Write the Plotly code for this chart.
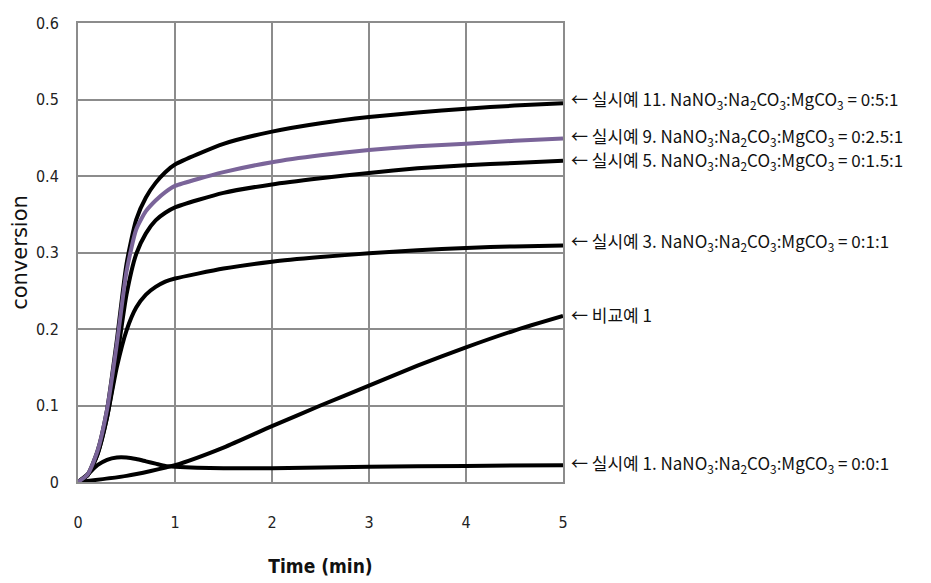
import plotly.graph_objects as go

# ---- data ----
t_fast = [0, 0.1, 0.2, 0.3, 0.4, 0.5, 0.6, 0.7, 0.8, 0.9, 1.0, 1.5, 2.0, 2.5, 3.0, 3.5, 4.0, 4.5, 5.0]
ex11 = [0, 0.010, 0.040, 0.095, 0.185, 0.285, 0.343, 0.372, 0.391, 0.405, 0.415, 0.442, 0.458, 0.469, 0.477, 0.483, 0.488, 0.492, 0.495]
ex9 = [0, 0.010, 0.040, 0.095, 0.180, 0.275, 0.330, 0.354, 0.368, 0.379, 0.387, 0.405, 0.418, 0.427, 0.434, 0.439, 0.442, 0.446, 0.449]
ex5 = [0, 0.009, 0.036, 0.085, 0.160, 0.245, 0.298, 0.325, 0.342, 0.352, 0.359, 0.378, 0.389, 0.397, 0.404, 0.410, 0.414, 0.417, 0.420]
ex3 = [0, 0.009, 0.036, 0.085, 0.150, 0.198, 0.228, 0.245, 0.255, 0.262, 0.266, 0.279, 0.288, 0.294, 0.299, 0.303, 0.306, 0.308, 0.309]

t_comp = [0, 0.5, 1.0, 1.5, 2.0, 2.5, 3.0, 3.5, 4.0, 4.5, 5.0]
comp1 = [0, 0.008, 0.022, 0.045, 0.073, 0.100, 0.126, 0.152, 0.176, 0.198, 0.217]

t_ex1 = [0, 0.1, 0.2, 0.3, 0.4, 0.5, 0.6, 0.7, 0.8, 0.9, 1.0, 1.5, 2.0, 3.0, 4.0, 5.0]
ex1 = [0, 0.010, 0.022, 0.029, 0.032, 0.032, 0.030, 0.027, 0.024, 0.021, 0.020, 0.018, 0.018, 0.020, 0.021, 0.022]

labels = [
    "실시예 11. NaNO<sub>3</sub>:Na<sub>2</sub>CO<sub>3</sub>:MgCO<sub>3</sub> = 0:5:1",
    "실시예 9. NaNO<sub>3</sub>:Na<sub>2</sub>CO<sub>3</sub>:MgCO<sub>3</sub> = 0:2.5:1",
    "실시예 5. NaNO<sub>3</sub>:Na<sub>2</sub>CO<sub>3</sub>:MgCO<sub>3</sub> = 0:1.5:1",
    "실시예 3. NaNO<sub>3</sub>:Na<sub>2</sub>CO<sub>3</sub>:MgCO<sub>3</sub> = 0:1:1",
    "비교예 1",
    "실시예 1. NaNO<sub>3</sub>:Na<sub>2</sub>CO<sub>3</sub>:MgCO<sub>3</sub> = 0:0:1",
]
label_y = [0.500, 0.452, 0.420, 0.315, 0.219, 0.024]

x_ticks = [0, 1, 2, 3, 4, 5]
y_ticks = [0, 0.1, 0.2, 0.3, 0.4, 0.5, 0.6]
y_tick_text = ["0", "0.1", "0.2", "0.3", "0.4", "0.5", "0.6"]

BLACK = "#000000"
PURPLE = "#7a6499"
GRID = "#8c8c8c"
NARROW = "Liberation Sans Narrow, Arial Narrow, DejaVu Sans Condensed, sans-serif"
KFONT = "Noto Sans CJK KR, sans-serif"

fig = go.Figure()
series = [
    (t_comp, comp1, BLACK),
    (t_ex1, ex1, BLACK),
    (t_fast, ex3, BLACK),
    (t_fast, ex5, BLACK),
    (t_fast, ex11, BLACK),
    (t_fast, ex9, PURPLE),
]
for xs, ys, c in series:
    fig.add_trace(go.Scatter(x=xs, y=ys, mode="lines",
                             line=dict(color=c, width=4, shape="spline", smoothing=0.6),
                             showlegend=False, hoverinfo="skip", cliponaxis=False))

for txt, yv in zip(labels, label_y):
    fig.add_annotation(x=5, y=yv, xref="x", yref="y", xanchor="left", yanchor="middle",
                       xshift=6, showarrow=False, align="left",
                       text="← " + txt,
                       font=dict(family=KFONT, size=17, color="#111111"))

# the page body adds an 8px margin, so the figure is sized to fit inside it
fig.update_layout(
    width=923, height=575,
    margin=dict(l=70, r=368, t=15, b=101, autoexpand=False),
    paper_bgcolor="white", plot_bgcolor="white",
    xaxis=dict(range=[0, 5], tickvals=x_ticks, showgrid=True, gridcolor=GRID, gridwidth=2,
               showline=True, linecolor=GRID, linewidth=2, mirror=True, zeroline=False,
               automargin=False,
               ticks="outside", ticklen=25, tickcolor="rgba(0,0,0,0)",
               tickfont=dict(family=NARROW, size=16, color="#222222"),
               title=dict(text="<b>Time (min)</b>", standoff=28,
                          font=dict(family=NARROW, size=19, color="#111111"))),
    yaxis=dict(range=[0, 0.6], tickvals=y_ticks, ticktext=y_tick_text, showgrid=True,
               gridcolor=GRID, gridwidth=2,
               showline=True, linecolor=GRID, linewidth=2, mirror=True, zeroline=False,
               automargin=False,
               ticks="outside", ticklen=14, tickcolor="rgba(0,0,0,0)",
               tickfont=dict(family=NARROW, size=16, color="#222222"),
               title=dict(text="conversion", standoff=4,
                          font=dict(family="DejaVu Sans, sans-serif", size=21, color="#111111"))),
)

fig.write_html("out.html")
